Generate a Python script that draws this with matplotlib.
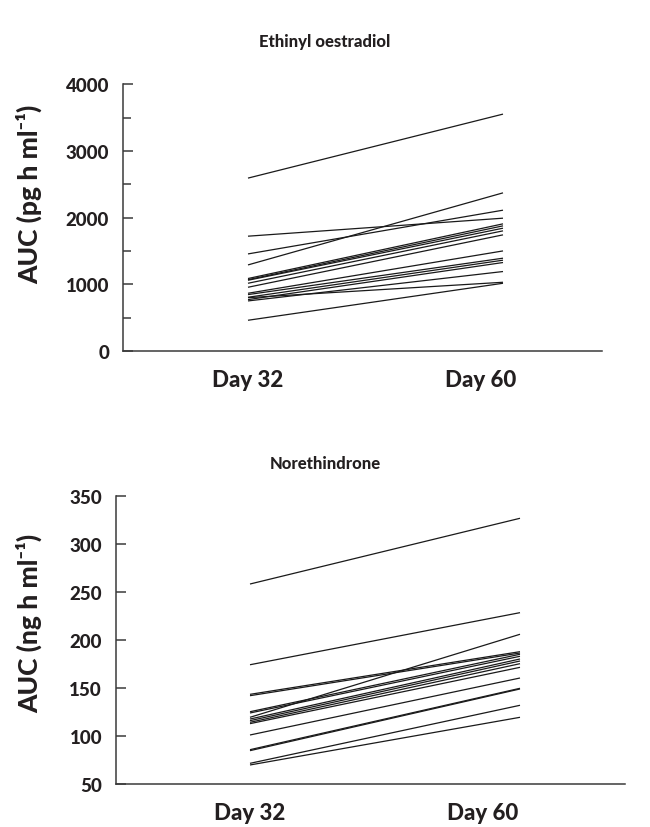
import matplotlib
matplotlib.use("Agg")
import matplotlib.pyplot as plt
from matplotlib.ticker import MultipleLocator

plt.rcParams['font.family'] = ['Lato', 'DejaVu Sans']
plt.rcParams['font.weight'] = 'heavy'

categories = ["Day 32", "Day 60"]

# Ethinyl oestradiol AUC (pg h ml-1)
ee_day32 = [2593, 1722, 1456, 1291, 1087, 1070, 1061, 1016, 956, 866, 846, 806, 771, 751, 800, 461]
ee_day60 = [3553, 1992, 2112, 2372, 1907, 1877, 1842, 1802, 1742, 1501, 1392, 1362, 1327, 1192, 1031, 1016]

# Norethindrone AUC (ng h ml-1)
ne_day32 = [258.1, 174.1, 143.3, 141.9, 125.2, 123.9, 119.4, 117.6, 115.9, 114.2, 112.8, 101.0, 85.7, 84.7, 71.5, 69.8]
ne_day60 = [326.5, 228.3, 187.7, 186.3, 185.0, 182.9, 205.8, 180.1, 178.0, 175.2, 171.4, 160.3, 149.6, 148.9, 131.9, 119.4]

W, H = 650, 828
fig = plt.figure(figsize=(W / 100, H / 100), dpi=100)

spine_c = '#3a3a3a'
line_c = '#1a1a1a'
txt_c = '#231f20'
WT = 900


def make_axes(rect, xlim, label_pos, ylim, major, minor, d32, d60, title, title_y, ylabel, ylabel_xy):
    ax = fig.add_axes(rect)
    for a, b in zip(d32, d60):
        ax.plot([0, 1], [a, b], color=line_c, lw=0.9, solid_capstyle='butt')
    ax.set_xlim(*xlim)
    ax.set_ylim(*ylim)
    for s in ['top', 'right']:
        ax.spines[s].set_visible(False)
    for s in ['left', 'bottom']:
        ax.spines[s].set_color(spine_c)
        ax.spines[s].set_linewidth(1.1)
    ax.set_xticks(label_pos)
    ax.set_xticklabels(categories, fontsize=16, fontweight=WT, color=txt_c)
    ax.tick_params(axis='x', length=0, pad=13)
    ax.yaxis.set_major_locator(MultipleLocator(major))
    if minor:
        ax.yaxis.set_minor_locator(MultipleLocator(minor))
    ax.tick_params(axis='y', which='major', direction='in', length=7, width=1.1,
                   color=spine_c, labelsize=13.5, pad=10, labelcolor=txt_c)
    ax.tick_params(axis='y', which='minor', direction='in', length=5.5, width=1.1,
                   color=spine_c)
    for lab in ax.get_yticklabels():
        lab.set_fontweight(WT)
    fig.text(0.5, title_y, title, ha='center', va='center', fontsize=12,
             fontweight=WT, color=txt_c)
    fig.text(ylabel_xy[0], ylabel_xy[1], ylabel, rotation=90, ha='center', va='center',
             fontsize=19, fontweight=WT, color=txt_c)
    return ax


# top panel: y spine at x=123px, 0 at y=352px, 4000 at y=85px; lines 248->503px
top_rect = [123 / W, 1 - 352 / H, (602 - 123) / W, (352 - 85.3) / H]
make_axes(top_rect, (-125 / 255, 354 / 255), [0, 233 / 255], (0, 4000), 1000, 500,
          ee_day32, ee_day60, "Ethinyl oestradiol", 1 - 42 / H,
          "AUC (pg h ml\u207b\u00b9)", (29 / W, 1 - 194 / H))

# bottom panel: y spine at x=116px, 50 at y=785px, 350 at y=496.7px; lines 250->520px
bot_rect = [116 / W, 1 - 785 / H, (625 - 116) / W, (785 - 496.7) / H]
make_axes(bot_rect, (-134 / 270, 375 / 270), [0, 233 / 270], (50, 350), 50, None,
          ne_day32, ne_day60, "Norethindrone", 1 - 464 / H,
          "AUC (ng h ml\u207b\u00b9)", (29 / W, 1 - 623 / H))

fig.savefig("out.png", dpi=100)
